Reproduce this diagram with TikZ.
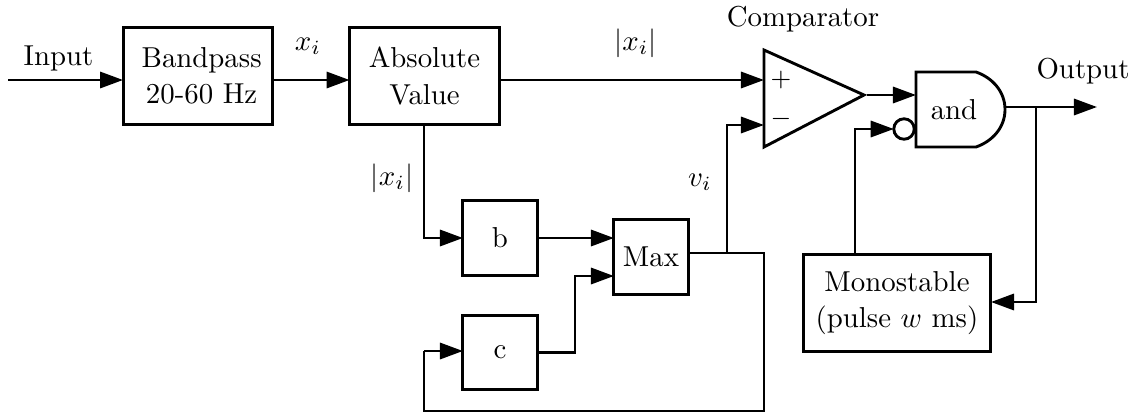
\documentclass[tikz,border=0pt]{standalone}
\usetikzlibrary{arrows.meta}
\tikzset{
  wire/.style={line width=1pt},
  arrowwire/.style={wire,-{Triangle[length=8pt,width=5.6pt]}},
  blockbig/.style={draw,line width=1.05pt,inner sep=0pt,outer sep=0pt,align=center,minimum width=52pt,minimum height=33.4pt},
  blocksmall/.style={draw,line width=1.05pt,inner sep=0pt,outer sep=0pt,minimum width=25.7pt,minimum height=25.7pt},
  blockmono/.style={draw,line width=1.05pt,inner sep=0pt,outer sep=0pt,align=center,minimum width=65.2pt,minimum height=33.4pt},
  lbl/.style={inner sep=0pt,outer sep=0pt},
  bubble/.style={circle,draw,line width=1pt,inner sep=0pt,outer sep=0pt,minimum size=7.1pt}
}
\begin{document}
\begin{tikzpicture}[x=0.347pt,y=-0.347pt]
\useasboundingbox (0,0) rectangle (1135,412);
% blocks
\node[blockbig] (bp) at (198,76) {\hspace{2.5pt}Bandpass\\[0.6pt]\hspace{2.5pt}20-60 Hz};
\node[blockbig] (abs) at (424.5,76) {Absolute\\[0.6pt]Value};
\node[blocksmall] (b) at (500,238) {b};
\node[blocksmall] (max) at (651,257) {Max};
\node[blocksmall] (c) at (500,352.5) {c};
\node[blockmono] (mono) at (897,303) {Monostable\\[0.6pt](pulse $w$ ms)};
% comparator
\coordinate (cmpA) at (764,50);
\coordinate (cmpB) at (764,147);
\coordinate (cmpT) at (864,95);
\draw[wire,line join=miter] (cmpA) -- (cmpT) -- (cmpB) -- cycle;
\node[lbl] (plus) at (781,80) {\small $+$};
\node[lbl] (minus) at (781,119) {\small $-$};
% and gate
\coordinate (gA) at (916,72);
\coordinate (gB) at (916,147);
\coordinate (gO) at (1006,107);
\draw[wire] (gA) -- (976,72) .. controls (993,78) and (1005,92) .. (1005,109.5)
  .. controls (1005,127) and (993,141) .. (976,147) -- (gB) -- cycle;
\node[lbl] (andtxt) at (954,110) {and};
\node[bubble] (bub) at (904,129) {};
% junction coordinates
\coordinate (inS) at (8,80);
\coordinate (outE) at (1097,107);
\coordinate (brO) at (1036,107);
\coordinate (brV) at (727,253);
\coordinate (fbR) at (764,411);
\coordinate (fbL) at (424,411);
% connectors
\draw[arrowwire] (inS) -- (inS -| bp.west);
\draw[arrowwire] (bp.east |- inS) -- (abs.west |- inS);
\draw[arrowwire] (abs.east |- inS) -- (764,80);
\draw[arrowwire] (abs.south -| fbL) -- (fbL |- b.west) -- (b.west);
\draw[arrowwire] (b.east) -- (max.west |- b.east);
\draw[arrowwire] (c.east) -- (575,352.5) -- (575,276) -- (max.west |- 0,276);
\draw[wire] (max.east |- brV) -- (fbR |- brV) -- (fbR) -- (fbL) -- (424,351);
\draw[arrowwire] (424,351) -- (c.west |- 0,351);
\draw[arrowwire] (brV) -- (727,125) -- (764,125);
\draw[arrowwire] (867,95) -- (916,95);
\draw[arrowwire] (mono.north -| 855,0) -- (855,129) -- (bub.west);
\draw[arrowwire] (gO) -- (outE);
\draw[arrowwire] (brO) -- (1036,302) -- (mono.east |- 0,302);
% labels
\node[lbl] (lin) at (58.5,58) {Input};
\node[lbl] (lxi) at (308,46) {$x_i$};
\node[lbl] (labs) at (635.5,43) {$|x_i|$};
\node[lbl] (lcmp) at (803,19) {Comparator};
\node[lbl] (lout) at (1083,71) {Output};
\node[lbl] (labs2) at (392,178) {$|x_i|$};
\node[lbl] (lvi) at (700,182) {$v_i$};
\end{tikzpicture}
\end{document}
